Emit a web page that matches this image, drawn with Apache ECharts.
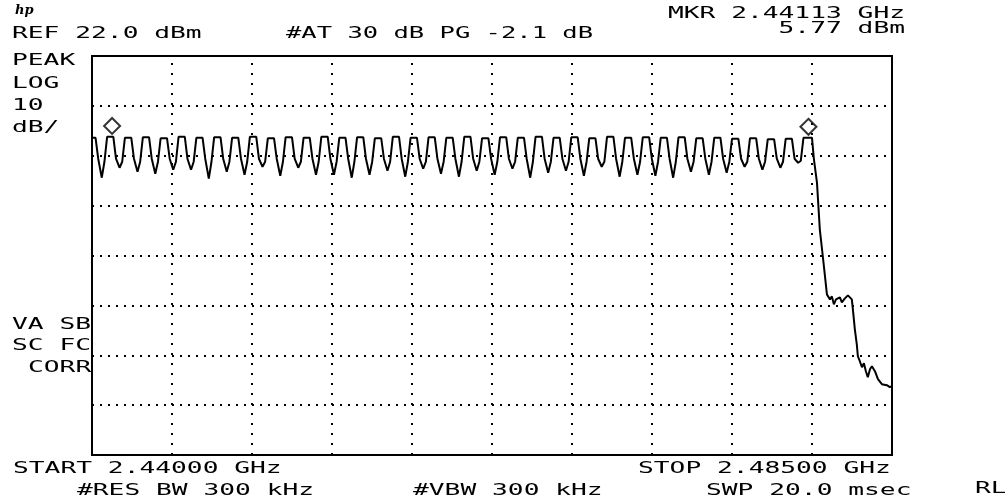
<!DOCTYPE html>
<html>
<head>
<meta charset="utf-8">
<script src="https://cdn.jsdelivr.net/npm/echarts/dist/echarts.min.js"></script>
<style>
  html, body { margin: 0; padding: 0; background: #fff; }
  #chart { width: 1005px; height: 503px; }
</style>
</head>
<body>
<div id="chart"></div>
<script>
// sweep: 2440 - 2485 MHz, REF 22 dBm, 10 dB/div, 8 divisions
const startMHz = 2440
const stopMHz = 2485
const refLevel = 22
const bottomLevel = -58

// graticule positions (10 x 8 divisions)
const gridFreqs = [2444.5, 2449, 2453.5, 2458, 2462.5, 2467, 2471.5, 2476, 2480.5]
const gridLevels = [12, 2, -8, -18, -28, -38, -48]

// peak-hold trace [MHz, dBm]
const trace = [
  [2440.00, 5.6],
  [2440.20, 5.6], [2440.35, 1.4], [2440.55, -2.4], [2440.70, 0.8], [2440.85, 5.8],
  [2441.20, 5.8], [2441.35, 1.4], [2441.55, -0.4], [2441.70, 0.8], [2441.85, 5.6],
  [2442.21, 5.6], [2442.36, 1.4], [2442.56, -1.2], [2442.71, 0.8], [2442.86, 5.7],
  [2443.21, 5.7], [2443.36, 1.4], [2443.56, -1.6], [2443.71, 0.8], [2443.86, 5.5],
  [2444.22, 5.5], [2444.37, 1.4], [2444.57, -0.8], [2444.72, 0.8], [2444.87, 5.8],
  [2445.22, 5.8], [2445.37, 1.4], [2445.57, -0.8], [2445.72, 0.8], [2445.87, 5.6],
  [2446.22, 5.6], [2446.37, 1.4], [2446.57, -2.6], [2446.72, 0.8], [2446.87, 5.7],
  [2447.23, 5.7], [2447.38, 1.4], [2447.58, -1.2], [2447.73, 0.8], [2447.88, 5.6],
  [2448.23, 5.6], [2448.38, 1.4], [2448.58, -1.8], [2448.73, 0.8], [2448.88, 5.8],
  [2449.24, 5.8], [2449.39, 1.4], [2449.59, -0.2], [2449.74, 0.8], [2449.89, 5.5],
  [2450.24, 5.5], [2450.39, 1.4], [2450.59, -2.0], [2450.74, 0.8], [2450.89, 5.7],
  [2451.25, 5.7], [2451.40, 1.4], [2451.60, -0.4], [2451.75, 0.8], [2451.90, 5.6],
  [2452.25, 5.6], [2452.40, 1.4], [2452.60, -1.8], [2452.75, 0.8], [2452.90, 5.8],
  [2453.26, 5.8], [2453.41, 1.4], [2453.61, -1.8], [2453.76, 0.8], [2453.91, 5.6],
  [2454.26, 5.6], [2454.41, 1.4], [2454.61, -2.4], [2454.76, 0.8], [2454.91, 5.7],
  [2455.26, 5.7], [2455.41, 1.4], [2455.61, -1.8], [2455.76, 0.8], [2455.91, 5.5],
  [2456.27, 5.5], [2456.42, 1.4], [2456.62, -1.0], [2456.77, 0.8], [2456.92, 5.8],
  [2457.27, 5.8], [2457.42, 1.4], [2457.62, -2.2], [2457.77, 0.8], [2457.92, 5.6],
  [2458.28, 5.6], [2458.43, 1.4], [2458.63, -0.6], [2458.78, 0.8], [2458.93, 5.7],
  [2459.28, 5.7], [2459.43, 1.4], [2459.63, -1.6], [2459.78, 0.8], [2459.93, 5.6],
  [2460.29, 5.6], [2460.44, 1.4], [2460.64, -2.2], [2460.79, 0.8], [2460.94, 5.8],
  [2461.29, 5.8], [2461.44, 1.4], [2461.64, -1.0], [2461.79, 0.8], [2461.94, 5.5],
  [2462.30, 5.5], [2462.45, 1.4], [2462.65, -1.8], [2462.80, 0.8], [2462.95, 5.7],
  [2463.30, 5.7], [2463.45, 1.4], [2463.65, -0.6], [2463.80, 0.8], [2463.95, 5.6],
  [2464.30, 5.6], [2464.45, 1.4], [2464.65, -2.4], [2464.80, 0.8], [2464.95, 5.8],
  [2465.31, 5.8], [2465.46, 1.4], [2465.66, -1.4], [2465.81, 0.8], [2465.96, 5.6],
  [2466.31, 5.6], [2466.46, 1.4], [2466.66, -1.0], [2466.81, 0.8], [2466.96, 5.7],
  [2467.32, 5.7], [2467.47, 1.4], [2467.67, -2.0], [2467.82, 0.8], [2467.97, 5.5],
  [2468.32, 5.5], [2468.47, 1.4], [2468.67, -0.2], [2468.82, 0.8], [2468.97, 5.8],
  [2469.33, 5.8], [2469.48, 1.4], [2469.68, -2.2], [2469.83, 0.8], [2469.98, 5.6],
  [2470.33, 5.6], [2470.48, 1.4], [2470.68, -1.8], [2470.83, 0.8], [2470.98, 5.7],
  [2471.34, 5.7], [2471.49, 1.4], [2471.69, -2.0], [2471.84, 0.8], [2471.99, 5.6],
  [2472.34, 5.6], [2472.49, 1.4], [2472.69, -2.4], [2472.84, 0.8], [2472.99, 5.7],
  [2473.34, 5.7], [2473.49, 1.4], [2473.69, -1.2], [2473.84, 0.8], [2473.99, 5.5],
  [2474.35, 5.5], [2474.50, 1.4], [2474.70, -1.8], [2474.85, 0.8], [2475.00, 5.6],
  [2475.35, 5.6], [2475.50, 1.4], [2475.70, -1.4], [2475.85, 0.8], [2476.00, 5.4],
  [2476.36, 5.4], [2476.51, 1.4], [2476.71, -0.2], [2476.86, 0.8], [2477.01, 5.5],
  [2477.36, 5.5], [2477.51, 1.4], [2477.71, -0.8], [2477.86, 0.8], [2478.01, 5.3],
  [2478.37, 5.3], [2478.52, 1.4], [2478.72, -0.4], [2478.87, 0.8], [2479.02, 5.4],
  [2479.37, 5.4], [2479.52, 1.4], [2479.72, 0.6], [2479.87, 1.0], [2480.02, 5.6],
  [2480.50, 5.6], [2480.61, 1.2], [2480.78, -3.4], [2480.94, -12.8], [2481.11, -18.2],
  [2481.34, -25.8], [2481.51, -26.8], [2481.62, -26.2], [2481.73, -27.8], [2481.85, -26.8],
  [2481.96, -27.2], [2482.07, -26.4], [2482.18, -27.4], [2482.35, -26.6], [2482.52, -26.0],
  [2482.63, -26.4], [2482.74, -26.8], [2482.80, -28.8], [2482.91, -32.8], [2483.02, -35.8],
  [2483.08, -38.2], [2483.19, -39.2], [2483.31, -40.4], [2483.42, -39.6], [2483.53, -41.2],
  [2483.64, -42.4], [2483.76, -40.8], [2483.87, -40.2], [2484.04, -41.2], [2484.21, -42.8],
  [2484.43, -43.8], [2484.71, -44.0], [2484.88, -44.4], [2485.00, -44.2]
]

// diamond markers [MHz, dBm]
const markers = [[2441.13, 5.77], [2480.30, 5.6]]

// screen annotations
const headerText = ['REF 22.0 dBm', '#AT 30 dB PG -2.1 dB', 'MKR 2.44113 GHz', '5.77 dBm']
const sideText = ['PEAK', 'LOG', '10', 'dB/', 'VA SB', 'SC FC', 'CORR']
const footerText = ['START 2.44000 GHz', 'STOP 2.48500 GHz', '#RES BW 300 kHz', '#VBW 300 kHz', 'SWP 20.0 msec', 'RL']

const FONT = 'DejaVu Sans Mono'
function label(text, x, y, align, sx) {
  return {
    type: 'text',
    x: x,
    y: y,
    scaleX: sx || 1.75,
    silent: true,
    style: {
      text: text,
      fontFamily: FONT,
      fontSize: 15,
      fill: '#000',
      align: align || 'left',
      verticalAlign: 'middle'
    }
  }
}

const graphics = [
  {
    type: 'text', x: 15, y: 11, silent: true,
    style: { text: 'hp', fontFamily: 'DejaVu Serif', fontStyle: 'italic', fontWeight: 'bold', fontSize: 13, fill: '#000', verticalAlign: 'middle' }
  },
  label(headerText[0], 12, 34),
  label(headerText[1], 286, 34, 'left', 1.7),
  label(headerText[2], 905, 14, 'right'),
  label(headerText[3], 905, 29, 'right'),
  label(sideText[0], 12, 61),
  label(sideText[1], 12, 84),
  label(sideText[2], 12, 106),
  label(sideText[3], 12, 128),
  label(sideText[4], 12, 325),
  label(sideText[5], 12, 346),
  label(sideText[6], 28, 368),
  label(footerText[0], 13, 469),
  label(footerText[1], 638, 469),
  label(footerText[2], 77, 491),
  label(footerText[3], 413, 491),
  label(footerText[4], 706, 491),
  label(footerText[5], 975, 489)
]

const gratLines = gridFreqs.map(f => ({
  xAxis: f,
  lineStyle: { color: '#000', width: 2, type: [2, 8] }
})).concat(gridLevels.map(v => ({
  yAxis: v,
  lineStyle: { color: '#000', width: 2, type: [2, 6] }
})))

const chart = echarts.init(document.getElementById('chart'))
chart.setOption({
  backgroundColor: '#fff',
  animation: false,
  grid: {
    left: 92,
    right: 113,
    top: 56,
    bottom: 48,
    show: true,
    borderColor: '#000',
    borderWidth: 2,
    backgroundColor: 'transparent'
  },
  xAxis: {
    type: 'value',
    min: startMHz,
    max: stopMHz,
    show: false
  },
  yAxis: {
    type: 'value',
    min: bottomLevel,
    max: refLevel,
    show: false
  },
  graphic: graphics,
  series: [
    {
      type: 'line',
      data: trace,
      showSymbol: false,
      silent: true,
      lineStyle: { color: '#000', width: 2 },
      markLine: {
        silent: true,
        symbol: ['none', 'none'],
        label: { show: false },
        data: gratLines
      }
    },
    {
      type: 'scatter',
      data: markers,
      symbol: 'diamond',
      symbolSize: 16,
      symbolOffset: [0, -11],
      silent: true,
      itemStyle: { color: 'rgba(0,0,0,0)', borderColor: '#000', borderWidth: 2 }
    }
  ]
})
</script>
</body>
</html>
